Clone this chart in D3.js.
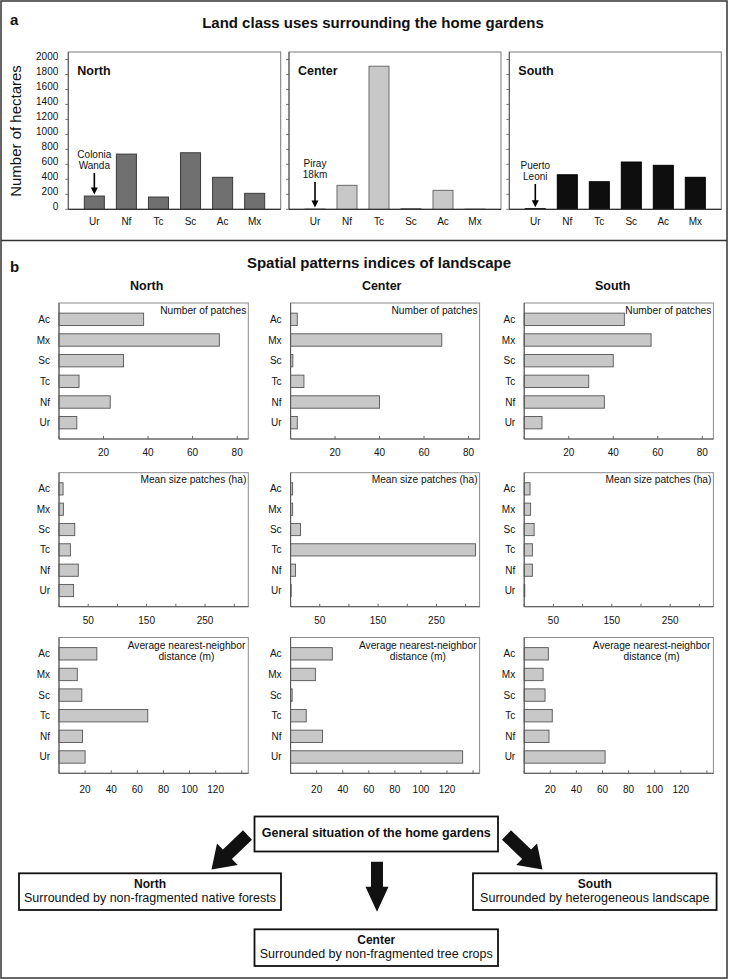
<!DOCTYPE html>
<html><head><meta charset="utf-8">
<script src="https://cdn.jsdelivr.net/npm/d3@7"></script>
<style>
body{margin:0;background:#fff}
svg{display:block}
text{font-family:'Liberation Sans',Arial,Helvetica,sans-serif;fill:#111}
</style>
</head><body><div id="chart"></div>
<script>
// ---------- DATA ----------
const landCats = ["Ur","Nf","Tc","Sc","Ac","Mx"];
const regions = ["North","Center","South"];
const hectNorth = [177,737,164,755,427,213];
const hectCenter = [4,320,1910,10,253,3];
const hectSouth = [8,461,368,631,587,427];
const hectTicks = [0,200,400,600,800,1000,1200,1400,1600,1800,2000];
const towns = [["Colonia","Wanda"],["Piray","18km"],["Puerto","Leoni"]];

const indexCats = ["Ac","Mx","Sc","Tc","Nf","Ur"];
const patchesNorth = [38,72,29,9,23,8];
const patchesCenter = [3,68,1,6,40,3];
const patchesSouth = [45,57,40,29,36,8];
const sizeNorth = [7,7.5,27,19.5,33,25];
const sizeCenter = [3.5,3.5,17,317,8.5,1];
const sizeSouth = [10,11,17,14,14,1];
const distNorth = [29,14,17.5,68,18,20];
const distCenter = [32,19,1.2,12,24.5,132];
const distSouth = [18.5,14.5,16,21.5,19,62];
const patchTicks = [20,40,60,80];
const sizeTicks = [50,150,250];
const distTicks = [20,40,60,80,100,120];
const indexTitles = [["Number of patches"],["Mean size patches (ha)"],["Average nearest-neighbor","distance (m)"]];

const outcomeTitle = "General situation of the home gardens";
const outcomeRegions = ["North","Center","South"];
const outcomeTexts = ["Surrounded by non-fragmented native forests","Surrounded by non-fragmented tree crops","Surrounded by heterogeneous landscape"];

// ---------- LAYOUT ----------
const W = 730, H = 980;
const svg = d3.select("#chart").append("svg").attr("width", W).attr("height", H);

svg.append("rect").attr("x",1).attr("y",1).attr("width",726).attr("height",977)
  .attr("fill","none").attr("stroke","#333").attr("stroke-width",1.5);
svg.append("line").attr("x1",1).attr("x2",727).attr("y1",240.5).attr("y2",240.5)
  .attr("stroke","#333").attr("stroke-width",1.5);

// ---------- PANEL a ----------
svg.append("text").attr("x",10).attr("y",25).attr("font-size",15).attr("font-weight","bold").text("a");
svg.append("text").attr("x",373).attr("y",27.5).attr("text-anchor","middle").attr("font-size",15)
  .attr("font-weight","bold").text("Land class uses surrounding the home gardens");
svg.append("text").attr("transform","translate(21,131) rotate(-90)").attr("text-anchor","middle")
  .attr("font-size",15).text("Number of hectares");

const aFrames = [{x0:68.3,x1:280.7},{x0:289,x1:501},{x0:509.3,x1:721.3}];
const aY0 = 209.3, aYTop = 52;
const aData = [hectNorth, hectCenter, hectSouth];
const aFill = ["#707070","#c8c8c8","#0e0e0e"];
const aStroke = ["#3c3c3c","#6a6a6a","#000"];
const yA = d3.scaleLinear().domain([0,2100]).range([aY0,aYTop]);

aFrames.forEach((f,i)=>{
  const g = svg.append("g");
  g.append("rect").attr("x",f.x0).attr("y",aYTop).attr("width",f.x1-f.x0).attr("height",aY0-aYTop)
    .attr("fill","none").attr("stroke","#7a7a7a").attr("stroke-width",1);
  const x = d3.scaleBand().domain(landCats).range([f.x0+10,f.x1-10]).paddingInner(0.375).paddingOuter(0.1875);
  hectTicks.forEach(t=>{
    g.append("line").attr("x1",f.x0-3).attr("x2",f.x0).attr("y1",yA(t)).attr("y2",yA(t)).attr("stroke","#777");
    if(i===0) g.append("text").attr("x",f.x0-10).attr("y",yA(t)-2.5).attr("dy","0.35em")
      .attr("text-anchor","end").attr("font-size",10).text(t);
  });
  g.selectAll("rect.bar").data(aData[i]).join("rect").attr("class","bar")
    .attr("x",(d,k)=>x(landCats[k])).attr("width",x.bandwidth())
    .attr("y",d=>yA(d)).attr("height",d=>aY0-yA(d))
    .attr("fill",aFill[i]).attr("stroke",aStroke[i]).attr("stroke-width",1);
  g.append("line").attr("x1",f.x0).attr("x2",f.x1).attr("y1",aY0).attr("y2",aY0).attr("stroke","#333").attr("stroke-width",1.2);
  g.append("line").attr("x1",f.x0).attr("x2",f.x0).attr("y1",aYTop).attr("y2",aY0).attr("stroke","#555").attr("stroke-width",1);
  landCats.forEach(c=>{
    g.append("text").attr("x",x(c)+x.bandwidth()/2).attr("y",224.5).attr("text-anchor","middle")
      .attr("font-size",10).text(c);
  });
  g.append("text").attr("x",f.x0+9).attr("y",75).attr("font-size",12.5).attr("font-weight","bold").text(regions[i]);
  const cx = x("Ur")+x.bandwidth()/2;
  const base = [158,167,169][i];
  towns[i].forEach((t,k)=>{
    g.append("text").attr("x",cx).attr("y",base+k*11).attr("text-anchor","middle").attr("font-size",10).text(t);
  });
  const ay1 = base+15, ay2 = yA(aData[i][0]) - 1.5;
  g.append("line").attr("x1",cx).attr("x2",cx).attr("y1",ay1).attr("y2",ay2-6).attr("stroke","#000").attr("stroke-width",1.6);
  g.append("path").attr("d",`M${cx-3.5},${ay2-7}L${cx+3.5},${ay2-7}L${cx},${ay2}Z`).attr("fill","#000");
});

// ---------- PANEL b ----------
svg.append("text").attr("x",10).attr("y",272).attr("font-size",15).attr("font-weight","bold").text("b");
svg.append("text").attr("x",379).attr("y",268).attr("text-anchor","middle").attr("font-size",15)
  .attr("font-weight","bold").text("Spatial patterns indices of landscape");

const bCols = [{x0:59,x1:248.3,hx:146.7},{x0:290.6,x1:479.6,hx:381.7},{x0:524.2,x1:713.4,hx:612.7}];
bCols.forEach((c,i)=>{
  svg.append("text").attr("x",c.hx).attr("y",290).attr("text-anchor","middle").attr("font-size",12.5)
    .attr("font-weight","bold").text(regions[i]);
});
const bRows = [
  {y0:303,y1:439,max:85,labels:patchTicks,marks:d3.range(0,81,20),ly:455.5,data:[patchesNorth,patchesCenter,patchesSouth]},
  {y0:472.7,y1:606.7,max:324,labels:sizeTicks,marks:d3.range(0,301,50),ly:623.5,data:[sizeNorth,sizeCenter,sizeSouth]},
  {y0:637.5,y1:773.3,max:145,labels:distTicks,marks:d3.range(0,141,20),ly:793,data:[distNorth,distCenter,distSouth]}
];
bRows.forEach((r,ri)=>{
  bCols.forEach((c,ci)=>{
    const g = svg.append("g");
    const x = d3.scaleLinear().domain([0,r.max]).range([c.x0,c.x1]);
    const y = d3.scaleBand().domain(indexCats).range([r.y0+6,r.y1-6]).paddingInner(0.4).paddingOuter(0.2);
    g.append("rect").attr("x",c.x0).attr("y",r.y0).attr("width",c.x1-c.x0).attr("height",r.y1-r.y0)
      .attr("fill","none").attr("stroke","#8a8a8a").attr("stroke-width",1);
    g.selectAll("rect.bar").data(r.data[ci]).join("rect").attr("class","bar")
      .attr("x",c.x0).attr("y",(d,k)=>y(indexCats[k])).attr("height",y.bandwidth())
      .attr("width",d=>x(d)-c.x0)
      .attr("fill","#c8c8c8").attr("stroke","#555").attr("stroke-width",0.9);
    g.append("line").attr("x1",c.x0).attr("x2",c.x0).attr("y1",r.y0).attr("y2",r.y1).attr("stroke","#555");
    g.append("line").attr("x1",c.x0).attr("x2",c.x1).attr("y1",r.y1).attr("y2",r.y1).attr("stroke","#555");
    r.marks.forEach(t=>{
      g.append("line").attr("x1",x(t)).attr("x2",x(t)).attr("y1",r.y1-3).attr("y2",r.y1).attr("stroke","#666");
    });
    r.labels.forEach(t=>{
      g.append("text").attr("x",x(t)).attr("y",r.ly).attr("text-anchor","middle").attr("font-size",10).text(t);
    });
    indexCats.forEach(k=>{
      g.append("text").attr("x",c.x0-9).attr("y",y(k)+y.bandwidth()/2).attr("dy","0.35em")
        .attr("text-anchor","end").attr("font-size",10).text(k);
    });
    const lines = indexTitles[ri];
    if(lines.length===1){
      g.append("text").attr("x",c.x1-2).attr("y",r.y0+10.5).attr("text-anchor","end").attr("font-size",10.2).text(lines[0]);
    } else {
      const t1 = g.append("text").attr("x",c.x1-3).attr("y",r.y0+11).attr("text-anchor","end").attr("font-size",10.2).text(lines[0]);
      const w1 = t1.node().getComputedTextLength();
      g.append("text").attr("x",c.x1-3-w1/2).attr("y",r.y0+22.8).attr("text-anchor","middle").attr("font-size",10.2).text(lines[1]);
    }
  });
});

// ---------- SUMMARY DIAGRAM ----------
function arrow(x1,y1,x2,y2,sw,hw,hl){
  const dx=x2-x1, dy=y2-y1, L=Math.hypot(dx,dy), ux=dx/L, uy=dy/L, nx=-uy, ny=ux;
  const bx=x2-ux*hl, by=y2-uy*hl;
  const p=[[x1+nx*sw/2,y1+ny*sw/2],[bx+nx*sw/2,by+ny*sw/2],[bx+nx*hw/2,by+ny*hw/2],[x2,y2],
           [bx-nx*hw/2,by-ny*hw/2],[bx-nx*sw/2,by-ny*sw/2],[x1-nx*sw/2,y1-ny*sw/2]];
  svg.append("path").attr("d","M"+p.map(q=>q.join(",")).join("L")+"Z").attr("fill","#111");
}
function box(x0,x1,y0,y1){
  svg.append("rect").attr("x",x0).attr("y",y0).attr("width",x1-x0).attr("height",y1-y0)
    .attr("fill","#fff").attr("stroke","#111").attr("stroke-width",1.8);
}
box(254.5,498,816.5,851.5);
svg.append("text").attr("x",376.3).attr("y",837).attr("text-anchor","middle").attr("font-size",12.5)
  .attr("font-weight","bold").attr("textLength",229).attr("lengthAdjust","spacingAndGlyphs").text(outcomeTitle);

arrow(247.5,835,211.5,869.5,13,30,22);
arrow(506.5,835,542.5,869.5,13,30,22);
arrow(377,861.7,377,911.7,12,23,25);

const oBoxes = [{x0:19,x1:281,y0:873.3,y1:910,tl:252},{x0:254.5,x1:498,y0:929.3,y1:966,tl:233},{x0:473,x1:716.6,y0:873.3,y1:910,tl:229.4}];
oBoxes.forEach((b,i)=>{
  box(b.x0,b.x1,b.y0,b.y1);
  const cx=(b.x0+b.x1)/2;
  svg.append("text").attr("x",cx).attr("y",b.y0+15).attr("text-anchor","middle").attr("font-size",12)
    .attr("font-weight","bold").text(outcomeRegions[i]);
  svg.append("text").attr("x",cx).attr("y",b.y0+28.4).attr("text-anchor","middle").attr("font-size",12.2)
    .attr("textLength",b.tl).attr("lengthAdjust","spacingAndGlyphs").text(outcomeTexts[i]);
});
</script>
</body></html>
